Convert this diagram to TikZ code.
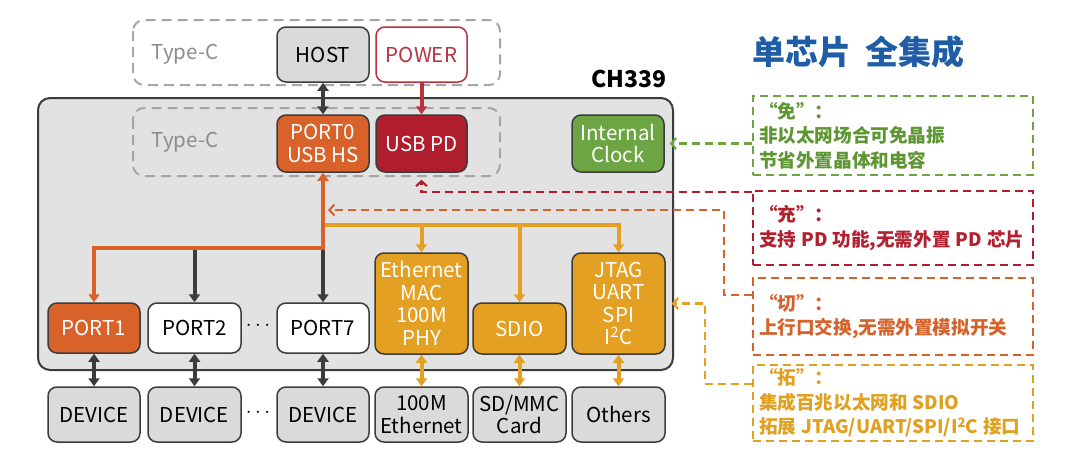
\documentclass[tikz,border=0pt]{standalone}
\usepackage{fontspec}
\setmainfont{Noto Sans CJK SC}
\usetikzlibrary{arrows.meta,calc}
\definecolor{corange}{HTML}{D9622B}
\definecolor{cdred}{HTML}{B01E2E}
\definecolor{cpred}{HTML}{B8323F}
\definecolor{cgreen}{HTML}{6DA544}
\definecolor{camber}{HTML}{E3A023}
\definecolor{cboxgray}{HTML}{DADADA}
\definecolor{cchip}{HTML}{E2E2E2}
\definecolor{cbdr}{HTML}{3C3C3C}
\definecolor{cdash}{HTML}{A6A6A6}
\definecolor{ctype}{HTML}{8C8C8C}
\definecolor{tgreen}{HTML}{5E9634}
\definecolor{tred}{HTML}{B3202E}
\definecolor{torange}{HTML}{D4622A}
\definecolor{tamber}{HTML}{E0A020}
\definecolor{cblue}{HTML}{1F5DA6}
\newcommand\lblfont{\fontsize{20.5}{22.5}\selectfont}
\newcommand\calfont{\fontsize{18.6}{24.5}\selectfont\bfseries}
\newcommand\wsp{\hspace{5pt}}
\begin{document}
\begin{tikzpicture}[x=1pt,y=-1pt,
  blk/.style={draw=cbdr, line width=1.5pt, rounded corners=9pt, align=center,
    inner sep=0pt, font=\lblfont, minimum width=92pt, minimum height=55pt},
  solidln/.style={line width=4pt},
  tipa/.style={arrows={-Triangle[length=8pt,width=11pt]}},
  tipb/.style={arrows={Triangle[length=8pt,width=11pt]-Triangle[length=8pt,width=11pt]}},
  dashln/.style={line width=2.1pt, dash pattern=on 8pt off 5pt,
    arrows={-Straight Barb[length=5pt,width=11pt,line width=2.1pt]}},
  cbox/.style={draw, line width=2.1pt, dash pattern=on 8pt off 5pt, anchor=north west,
    minimum width=280pt, text width=268pt, inner xsep=6pt, align=left, font=\calfont},
  typec/.style={draw=cdash, line width=2pt, dash pattern=on 10pt off 6pt, rounded corners=11pt}
]
\useasboundingbox[fill=white] (0,0) rectangle (1080,469);

% title
\node[font=\fontsize{33}{35}\selectfont\bfseries, text=cblue, anchor=west, inner sep=0pt] (title) at (752,52) {单芯片\hspace{14pt}全集成};

% top type-c
\draw[typec] (133,20) rectangle (500,85);
\node[text=ctype, font=\lblfont] (tc1) at (185,54) {Type-C};
\node[blk, fill=cboxgray] (host) at (323,54.5) {HOST};
\node[blk, fill=white, draw=cpred, text=cpred, minimum width=91pt] (power) at (421.5,54.5) {POWER};

% chip
\draw[draw=cbdr, fill=cchip, line width=2pt, rounded corners=12pt] (38,98) rectangle (673,370);
\node[font=\fontsize{23}{25}\selectfont\bfseries, anchor=east] (ch) at (670,79) {CH339};
\draw[typec] (133,108) rectangle (500,176);
\node[text=ctype, font=\lblfont] (tc2) at (185,142) {Type-C};

\node[blk, fill=corange, text=white, minimum height=57pt] (port0) at (323,143.5) {PORT0\\USB HS};
\node[blk, fill=cdred, text=white, minimum height=57pt, minimum width=91pt] (usbpd) at (421.5,143.5) {USB PD};
\node[blk, fill=cgreen, text=white, minimum height=57pt] (clock) at (618,143.5) {Internal\\Clock};

\node[blk, fill=corange, text=white, minimum height=50pt] (port1) at (94,328) {PORT1};
\node[blk, fill=white, minimum height=50pt, minimum width=93pt] (port2) at (194.5,328) {PORT2};
\node[font=\lblfont] (dots1) at (258,326) {$\cdots$};
\node[blk, fill=white, minimum height=50pt] (port7) at (323,328) {PORT7};
\node[blk, fill=camber, text=white, minimum height=101pt, minimum width=93pt] (eth) at (421.5,303.5) {Ethernet\\MAC\\100M\\PHY};
\node[blk, fill=camber, text=white, minimum height=51pt, minimum width=93pt] (sdio) at (519.5,328.5) {SDIO};
\node[blk, fill=camber, text=white, minimum height=101pt, minimum width=93pt] (jtag) at (618.5,303.5) {JTAG\\UART\\SPI\\I\textsuperscript{2}C};

% bottom devices
\node[blk, fill=cboxgray] (dev1) at (94,414.5) {DEVICE};
\node[blk, fill=cboxgray, minimum width=93pt] (dev2) at (194.5,414.5) {DEVICE};
\node[font=\lblfont] (dots2) at (258,413) {$\cdots$};
\node[blk, fill=cboxgray] (dev7) at (323,414.5) {DEVICE};
\node[blk, fill=cboxgray, minimum width=93pt] (ethx) at (421.5,414.5) {100M\\Ethernet};
\node[blk, fill=cboxgray, minimum width=93pt] (sdcard) at (519.5,414.5) {SD/MMC\\Card};
\node[blk, fill=cboxgray, minimum width=93pt] (others) at (618.5,414.5) {Others};

% coordinates
\coordinate (oj) at (323,248);
\coordinate (yj) at (323,225);
\coordinate (otip) at (328,210);

% connectors
\draw[solidln, cbdr, tipb] (host) -- (port0);
\draw[solidln, cpred, tipa] (power) -- (usbpd);
\draw[solidln, cbdr, tipa] (port2.north |- oj) -- (port2.north);
\draw[solidln, cbdr, tipa] (oj) -- (port7.north);
\draw[solidln, camber, tipa] (yj) -| (jtag.north);
\draw[solidln, camber, tipa] (eth.north |- yj) -- (eth.north);
\draw[solidln, camber, tipa] (sdio.north |- yj) -- (sdio.north);
\draw[solidln, corange, tipb] (port1.north) |- (oj) -- (port0.south);
\draw[solidln, cbdr, tipb] (port1) -- (dev1);
\draw[solidln, cbdr, tipb] (port2) -- (dev2);
\draw[solidln, cbdr, tipb] (port7) -- (dev7);
\draw[solidln, camber, tipb] (eth) -- (ethx);
\draw[solidln, camber, tipb] (sdio) -- (sdcard);
\draw[solidln, camber, tipb] (jtag) -- (others);

% callouts
\node[cbox, draw=cgreen, text=tgreen, minimum height=79pt] (cg) at (752,95) {“免”：\\非以太网场合可免晶振\\节省外置晶体和电容};
\node[cbox, draw=cdred, text=tred, minimum height=74pt] (cr) at (752,190) {“充”：\\\mbox{支持\wsp PD\wsp 功能,无需外置\wsp PD\wsp 芯片}};
\node[cbox, draw=torange, text=torange, minimum height=77pt] (co) at (752,277) {“切”：\\上行口交换,无需外置模拟开关};
\node[cbox, draw=tamber, text=tamber, minimum height=76pt] (cy) at (752,364) {“拓”：\\\mbox{集成百兆以太网和\wsp SDIO}\\\mbox{拓展\wsp JTAG/UART/SPI/I\textsuperscript{2}C\wsp 接口}};

\draw[dashln, cgreen] (cg.west |- clock.east) -- ([xshift=5pt]clock.east);
\draw[dashln, cdred] ($(cr.north west)+(0,2)$) -| ([yshift=-7pt]usbpd.south);
\draw[dashln, corange] ($(co.north west)+(0,18)$) -- ++(-28,0) |- (otip);
\draw[dashln, camber] ($(cy.north west)+(0,20)$) -- ++(-47,0) |- ([xshift=6pt]jtag.east);
\end{tikzpicture}
\end{document}
